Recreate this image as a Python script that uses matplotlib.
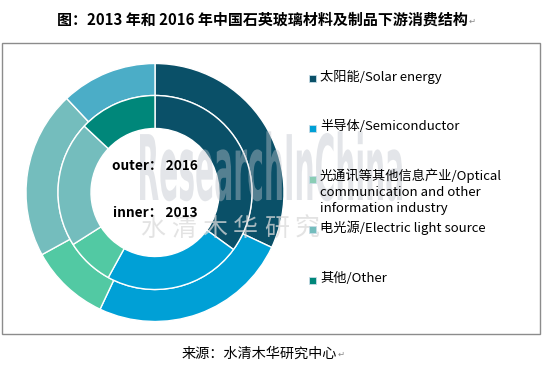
import matplotlib
matplotlib.use("Agg")
import matplotlib.pyplot as plt
from matplotlib.patches import Rectangle, PathPatch
from matplotlib.textpath import TextPath
from matplotlib.font_manager import FontProperties
from matplotlib.transforms import Affine2D, IdentityTransform

plt.rcParams['font.family'] = ['Noto Sans CJK SC', 'DejaVu Sans']

# ---- data ----
categories = ["太阳能/Solar energy", "半导体/Semiconductor",
              "光通讯等其他信息产业/Optical\ncommunication and other\ninformation industry",
              "电光源/Electric light source", "其他/Other"]
outer_2016 = [32, 25, 10, 21, 12]
inner_2013 = [35, 23, 8, 21, 13]
inner_colors = ['#0A5068', '#00A0D6', '#52C9A3', '#74BDBD', '#00877A']
outer_colors = ['#0A5068', '#00A0D6', '#52C9A3', '#74BDBD', '#4BADC7']
legend_colors = ['#0A5068', '#00A0D6', '#8ACDB5', '#74BDBD', '#00877A']
title = "图：2013 年和 2016 年中国石英玻璃材料及制品下游消费结构"
source = "来源：水清木华研究中心"
watermark_cn = "水清木华研究"

W, H = 543, 369
fig = plt.figure(figsize=(W / 100, H / 100), dpi=100)

def fx(px):
    return px / W

def fy(py):
    return 1 - py / H

# border box
fig.add_artist(Rectangle((fx(2), fy(334)), fx(540) - fx(2), fy(43) - fy(334),
                         transform=fig.transFigure, fill=False,
                         edgecolor='#8C8C8C', linewidth=1.0))

# donut axes
cx, cy, half = 155, 192.5, 130
ax = fig.add_axes([fx(cx - half), fy(cy + half), 2 * half / W, 2 * half / H])
ax.pie(outer_2016, radius=1.29, colors=outer_colors, startangle=90,
       counterclock=False,
       wedgeprops=dict(width=0.32, edgecolor='white', linewidth=1.0))
ax.pie(inner_2013, radius=0.97, colors=inner_colors, startangle=90,
       counterclock=False,
       wedgeprops=dict(width=0.33, edgecolor='white', linewidth=1.0))
ax.set_xlim(-1.3, 1.3)
ax.set_ylim(-1.3, 1.3)
ax.set_aspect('equal')
ax.axis('off')

# watermark (ResearchInChina, condensed)
fp = FontProperties(family='DejaVu Sans', weight='bold')
tp = TextPath((0, 0), "ResearchInChina", size=100, prop=fp)
bb = tp.get_extents()
sx = 262 / bb.width
sy = 66 / 73.0
tr = Affine2D().translate(-bb.x0, 0).scale(sx, sy).translate(140, H - 200)
patch = PathPatch(tr.transform_path(tp), transform=IdentityTransform(),
                  facecolor='#BEC3CB', edgecolor='none', alpha=0.42, zorder=5)
fig.add_artist(patch)
for i, ch in enumerate(watermark_cn):
    fig.text(fx(140 + 31 * i), fy(229), ch, fontsize=18,
             color='#DADADA', alpha=0.75, ha='left', va='center', zorder=5)

# center labels
fig.text(fx(155), fy(166), "outer： 2016", fontsize=9.8, fontweight='bold',
         ha='center', va='center', color='black', zorder=6)
fig.text(fx(155), fy(213), "inner： 2013", fontsize=9.8, fontweight='bold',
         ha='center', va='center', color='black', zorder=6)

# legend (manual)
leg_y = [77, 127, 178, 228, 279]
for lab, col, y in zip(categories, legend_colors, leg_y):
    fig.add_artist(Rectangle((fx(309), fy(y + 5)), 7 / W, 7 / H,
                             transform=fig.transFigure, facecolor=col,
                             edgecolor='#C8DCE6', linewidth=0.6, zorder=6))
    if '\n' in lab:
        fig.text(fx(320), fy(y - 10), lab, fontsize=9.5, ha='left', va='top',
                 color='black', linespacing=1.33, zorder=6)
    else:
        fig.text(fx(320), fy(y), lab, fontsize=9.5, ha='left', va='center',
                 color='black', zorder=6)

# title and source
t = fig.text(fx(262), fy(20), title, fontsize=10.8, fontweight='bold',
             ha='center', va='center', color='black')
s = fig.text(fx(259), fy(354), source, fontsize=10.2,
             ha='center', va='center', color='black')

fig.canvas.draw()
r = fig.canvas.get_renderer()
for obj in (t, s):
    e = obj.get_window_extent(r)
    fig.text((e.x1 + 1) / W, (e.y0 + 2) / H, "↵", fontsize=6, color='#888888',
             ha='left', va='bottom', family=['DejaVu Sans'])

fig.savefig("out.png", dpi=100)
